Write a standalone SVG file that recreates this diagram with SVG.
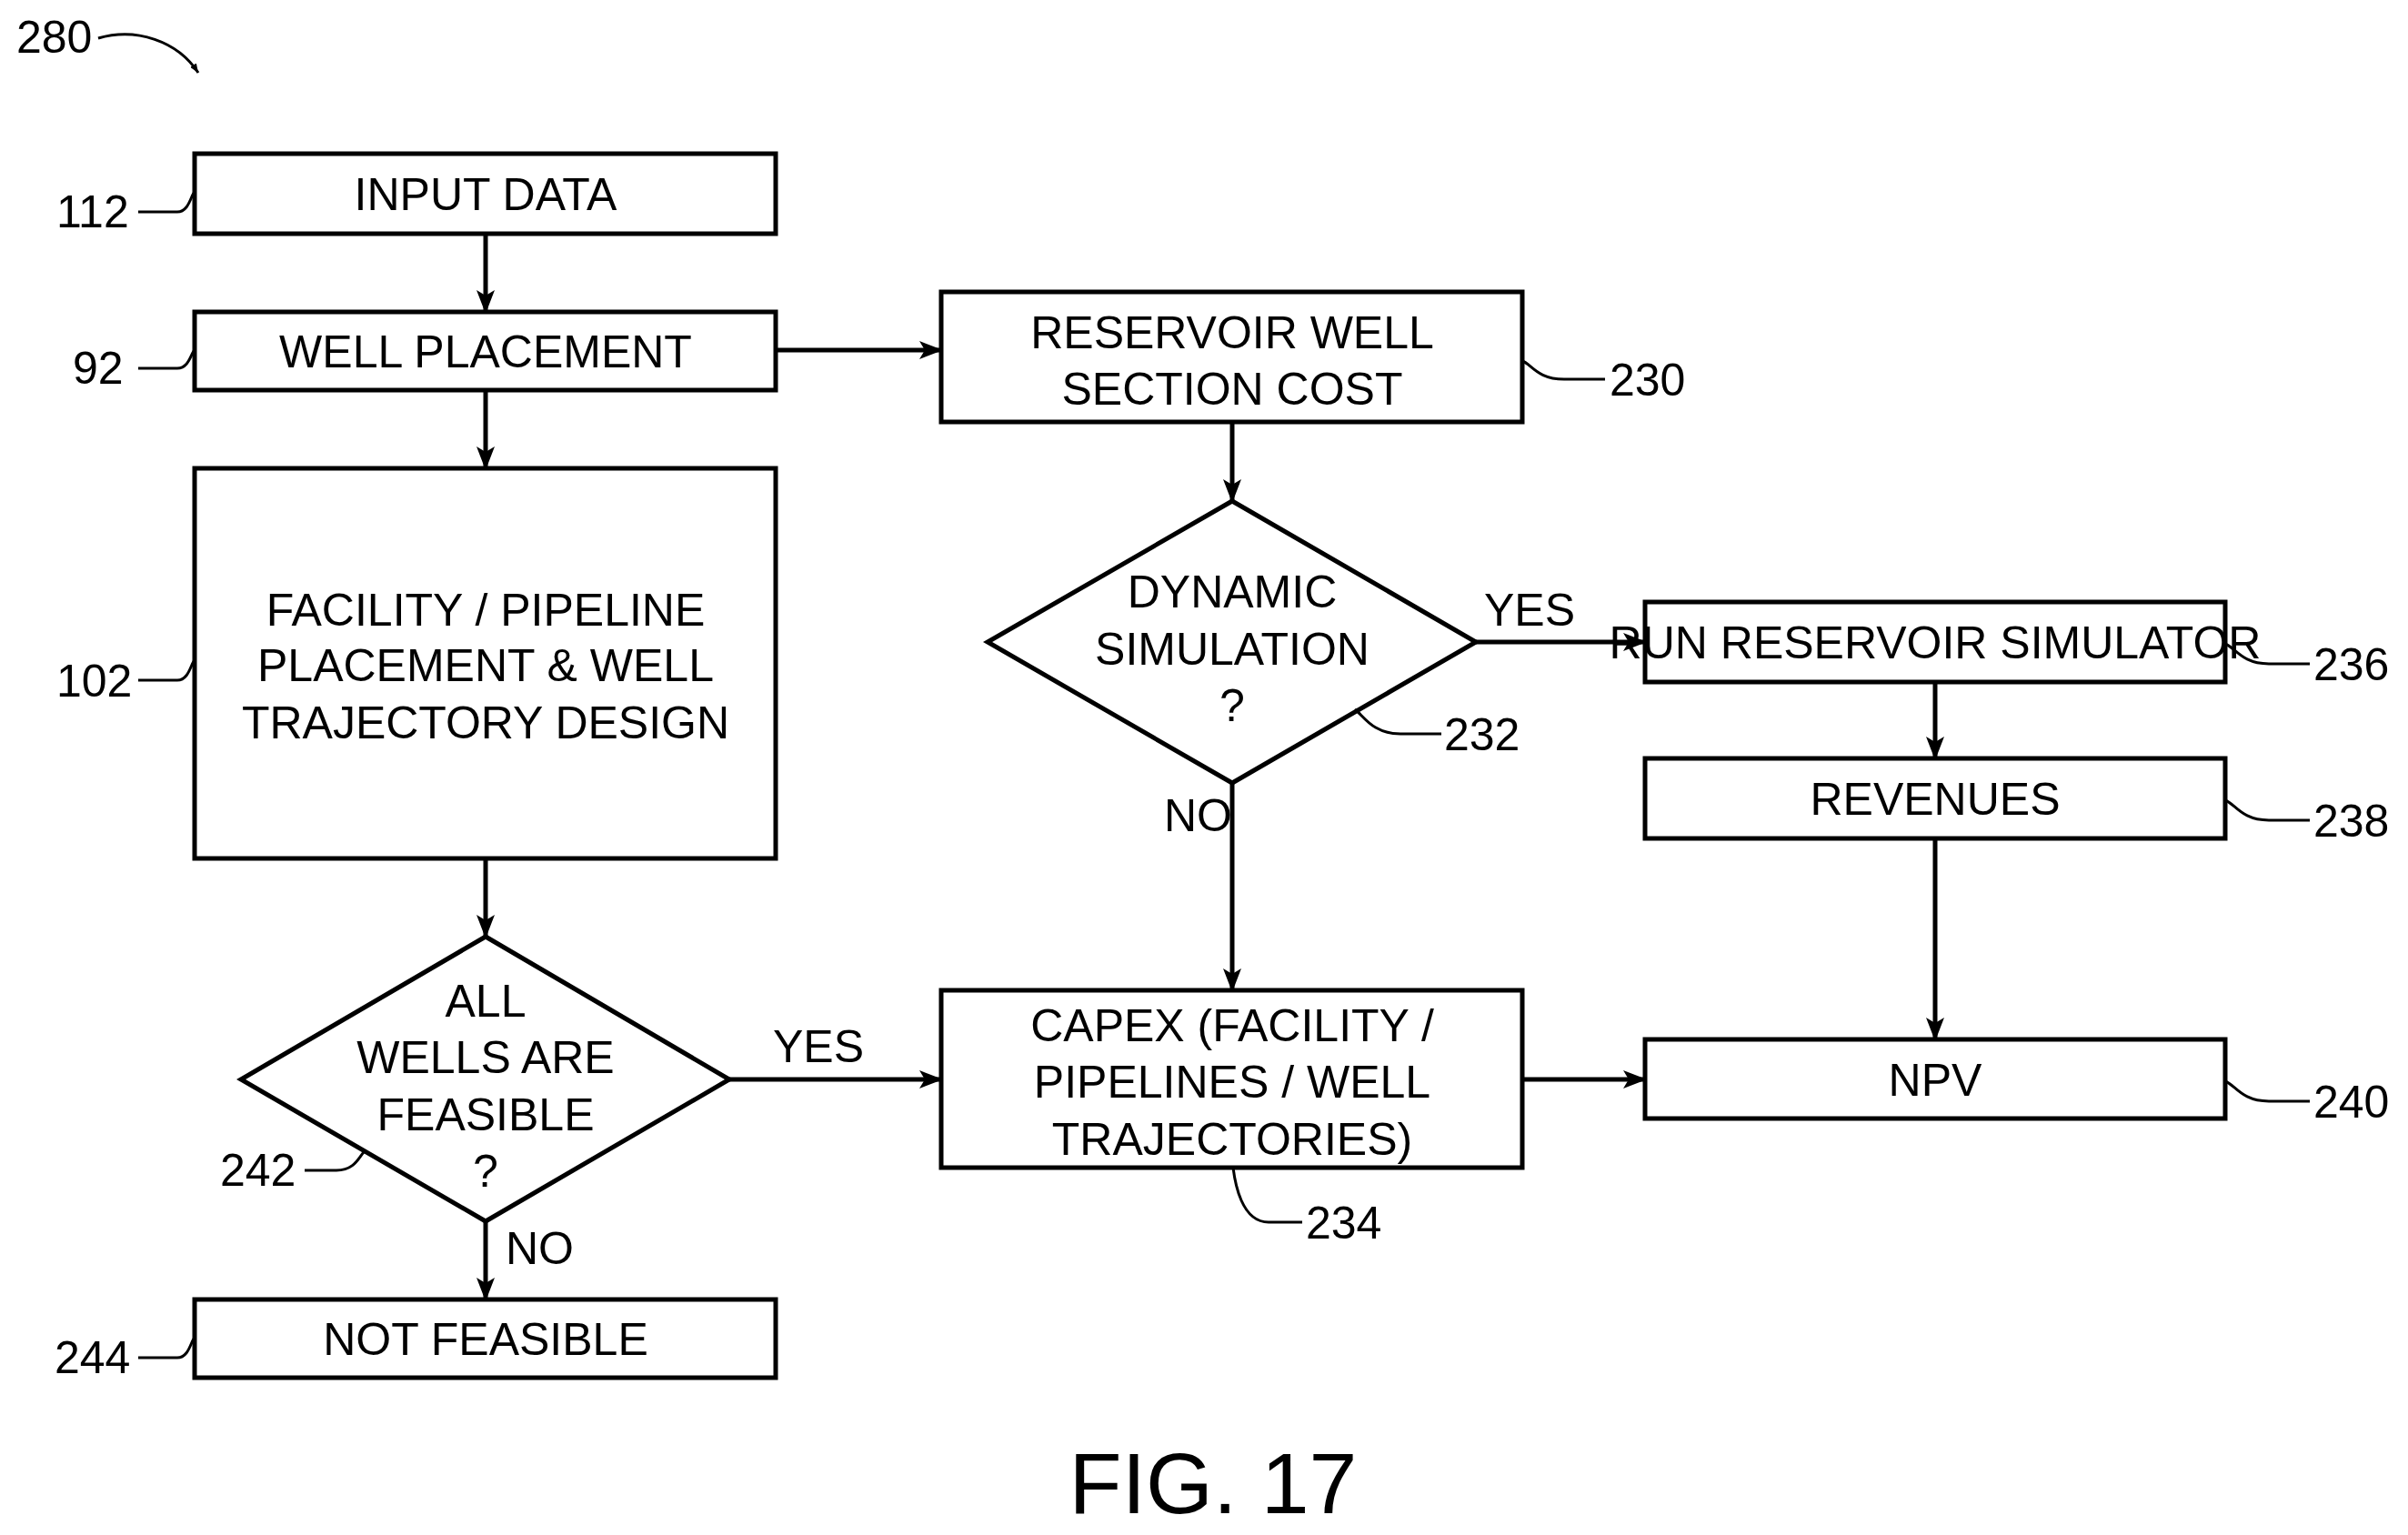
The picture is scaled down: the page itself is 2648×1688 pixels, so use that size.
<svg xmlns="http://www.w3.org/2000/svg" width="2648" height="1688" viewBox="0 0 2648 1688">
<defs>
<marker id="ah" markerWidth="10" markerHeight="8" refX="10" refY="4" orient="auto" markerUnits="userSpaceOnUse" viewBox="0 0 10 8"><path d="M0,0 L10,4 L0,8 Z" fill="#000"/></marker>
<marker id="a2" markerWidth="26" markerHeight="20" refX="24" refY="10" orient="auto" markerUnits="userSpaceOnUse"><path d="M0,0 L26,10 L0,20 L6,10 Z" fill="#000"/></marker>
<style>
.b{fill:#fff;stroke:#000;stroke-width:5}
.t{font-family:"Liberation Sans",Arial,sans-serif;font-size:50px;text-anchor:middle;fill:#000}
.r{font-family:"Liberation Sans",Arial,sans-serif;font-size:50px;fill:#000}
.l{fill:none;stroke:#000;stroke-width:5}
.c{fill:none;stroke:#000;stroke-width:3}
</style>
</defs>
<rect width="2648" height="1688" fill="#fff"/>
<g id="connectors">
<path class="l" marker-end="url(#a2)" d="M534,257 V343"/>
<path class="l" marker-end="url(#a2)" d="M534,429 V515"/>
<path class="l" marker-end="url(#a2)" d="M853,385 H1035"/>
<path class="l" marker-end="url(#a2)" d="M534,944 V1030"/>
<path class="l" marker-end="url(#a2)" d="M534,1343 V1429"/>
<path class="l" marker-end="url(#a2)" d="M802,1187 H1035"/>
<path class="l" marker-end="url(#a2)" d="M1355,464 V551"/>
<path class="l" marker-end="url(#a2)" d="M1355,861 V1089"/>
<path class="l" marker-end="url(#a2)" d="M1623,706 H1809"/>
<path class="l" marker-end="url(#a2)" d="M2128,750 V834"/>
<path class="l" marker-end="url(#a2)" d="M2128,922 V1143"/>
<path class="l" marker-end="url(#a2)" d="M1674,1187 H1809"/>
<text class="r" x="850" y="1168">YES</text>
<text class="r" x="556" y="1390">NO</text>
<text class="r" x="1632" y="688">YES</text>
<text class="r" x="1280" y="914">NO</text>
</g>
<g id="n112"><rect class="b" x="214" y="169" width="639" height="88"/><text class="t" x="534" y="231">INPUT  DATA</text></g>
<g id="n92"><rect class="b" x="214" y="343" width="639" height="86"/><text class="t" x="534" y="404">WELL  PLACEMENT</text></g>
<g id="n102"><rect class="b" x="214" y="515" width="639" height="429"/><text class="t" x="534" y="688">FACILITY / PIPELINE</text><text class="t" x="534" y="749">PLACEMENT  &amp;  WELL</text><text class="t" x="534" y="812">TRAJECTORY  DESIGN</text></g>
<g id="n242"><path class="b" d="M534,1030 L802,1187 L534,1343 L265,1187 Z"/><text class="t" x="534" y="1118">ALL</text><text class="t" x="534" y="1180">WELLS  ARE</text><text class="t" x="534" y="1243">FEASIBLE</text><text class="t" x="534" y="1305">?</text></g>
<g id="n244"><rect class="b" x="214" y="1429" width="639" height="86"/><text class="t" x="534" y="1490">NOT  FEASIBLE</text></g>
<g id="n230"><rect class="b" x="1035" y="321" width="639" height="143"/><text class="t" x="1355" y="383">RESERVOIR  WELL</text><text class="t" x="1355" y="445">SECTION  COST</text></g>
<g id="n232"><path class="b" d="M1355,551 L1623,706 L1355,861 L1086,706 Z"/><text class="t" x="1355" y="668">DYNAMIC</text><text class="t" x="1355" y="731">SIMULATION</text><text class="t" x="1355" y="793">?</text></g>
<g id="n234"><rect class="b" x="1035" y="1089" width="639" height="195"/><text class="t" x="1355" y="1145">CAPEX  (FACILITY /</text><text class="t" x="1355" y="1207">PIPELINES / WELL</text><text class="t" x="1355" y="1270">TRAJECTORIES)</text></g>
<g id="n236"><rect class="b" x="1809" y="662" width="638" height="88"/><text class="t" x="2128" y="724">RUN  RESERVOIR  SIMULATOR</text></g>
<g id="n238"><rect class="b" x="1809" y="834" width="638" height="88"/><text class="t" x="2128" y="896">REVENUES</text></g>
<g id="n240"><rect class="b" x="1809" y="1143" width="638" height="87"/><text class="t" x="2128" y="1205">NPV</text></g>
<g id="refs">
<text class="r" x="18" y="58">280</text>
<path class="c" marker-end="url(#ah)" d="M108,42 C150,30 195,45 218,80"/>
<text class="r" x="62" y="250">112</text><path class="c" d="M152,233 H195 C208,233 210,214 214,211"/>
<text class="r" x="80" y="422">92</text><path class="c" d="M152,405 H195 C208,405 210,388 214,385"/>
<text class="r" x="62" y="766">102</text><path class="c" d="M152,748 H195 C208,748 210,729 214,726"/>
<text class="r" x="242" y="1304">242</text><path class="c" d="M335,1287 H370 C390,1287 395,1272 400,1267"/>
<text class="r" x="60" y="1510">244</text><path class="c" d="M152,1493 H195 C208,1493 210,1474 214,1471"/>
<text class="r" x="1770" y="435">230</text><path class="c" d="M1765,417 H1720 C1690,417 1684,400 1674,397"/>
<text class="r" x="1588" y="825">232</text><path class="c" d="M1585,807 H1540 C1510,807 1500,788 1490,780"/>
<text class="r" x="2544" y="748">236</text><path class="c" d="M2540,730 H2495 C2465,730 2458,712 2447,708"/>
<text class="r" x="2544" y="920">238</text><path class="c" d="M2540,902 H2495 C2465,902 2458,884 2447,880"/>
<text class="r" x="2544" y="1229">240</text><path class="c" d="M2540,1211 H2495 C2465,1211 2458,1193 2447,1189"/>
<text class="r" x="1436" y="1362">234</text><path class="c" d="M1432,1344 H1395 C1365,1344 1358,1300 1356,1284"/>
</g>
<text x="1334" y="1664" font-family="Liberation Sans, Arial, sans-serif" font-size="95" text-anchor="middle">FIG. 17</text>
</svg>
